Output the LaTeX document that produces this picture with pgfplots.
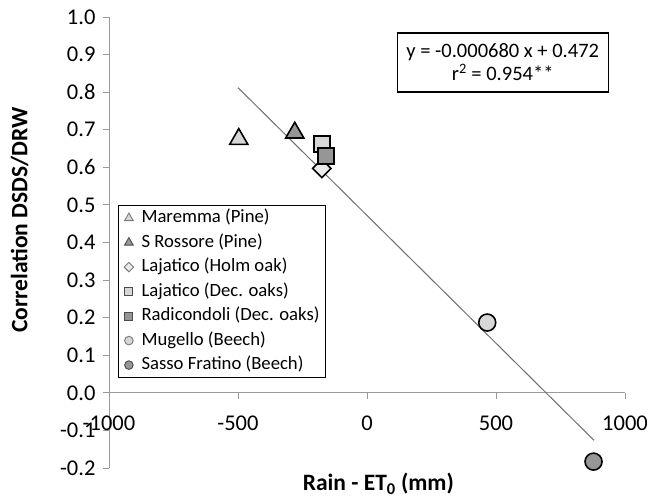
\documentclass[border=0pt]{standalone}
\usepackage{pgfplots}
\pgfplotsset{compat=1.18}
\usepackage{fontspec}
\setmainfont{Carlito}
\definecolor{lightfill}{RGB}{215,215,215}
\definecolor{darkfill}{RGB}{150,150,150}
\definecolor{axisgray}{RGB}{155,155,155}
\definecolor{linegray}{RGB}{110,110,110}
\begin{document}
\begin{tikzpicture}
\begin{axis}[
  scale only axis, width=516pt, height=451pt,
  xmin=-1000, xmax=1000, ymin=-0.2, ymax=1.0,
  axis y line=left, axis x line=middle,
  axis line style={axisgray, -, line width=0.9pt},
  hide obscured x ticks=false, hide obscured y ticks=false,
  xtick={-1000,-500,0,500,1000},
  ytick={-0.2,-0.1,0,0.1,0.2,0.3,0.4,0.5,0.6,0.7,0.8,0.9,1.0},
  yticklabel style={/pgf/number format/fixed, /pgf/number format/fixed zerofill, /pgf/number format/precision=1, xshift=-4pt},
  xticklabel style={/pgf/number format/1000 sep={}, yshift=-14pt},
  /pgf/number format/assume math mode=true,
  tick style={axisgray, line width=0.9pt},
  tick align=outside, major tick length=6pt,
  ticklabel style={font=\fontsize{22.5}{24}\selectfont},
  xlabel={\textbf{Rain - ET\textsubscript{0} (mm)}},
  ylabel={\textbf{Correlation DSDS/DRW}},
  xlabel style={at={(axis description cs:0.522,0)}, anchor=center, yshift=-16pt, font=\fontsize{23.5}{26}\selectfont},
  ylabel style={at={(axis description cs:-0.173,0.55)}, anchor=center, font=\fontsize{23.5}{26}\selectfont},
  clip=false,
  legend cell align=left,
  legend image code/.code={\draw[#1] plot coordinates {(0pt,0pt)};},
  legend style={at={(0.017,0.2)}, anchor=south west, draw=black, line width=0.9pt,
    font=\fontsize{18.7}{20}\selectfont, inner xsep=6pt, inner ysep=0pt,
    /tikz/every odd column/.append style={column sep=8pt},
    nodes={text height=14.5pt, text depth=5pt, inner ysep=2.5pt, inner xsep=0pt}},
]
\addplot[forget plot, linegray, line width=1pt] coordinates {(-500,0.812) (880,-0.1264)};
\addplot[forget plot, only marks, mark=triangle*, mark size=10.5pt, mark options={fill=lightfill, draw=black, line width=1.6pt}] coordinates {(-497,0.675)};
\addplot[forget plot, only marks, mark=triangle*, mark size=10.5pt, mark options={fill=darkfill, draw=black, line width=1.6pt}] coordinates {(-280,0.692)};
\addplot[forget plot, only marks, mark=square*, mark size=6.5pt, mark options={rotate=45, fill=lightfill!50!white, draw=black, line width=1.6pt}] coordinates {(-175,0.597)};
\addplot[forget plot, only marks, mark=square*, mark size=8pt, mark options={fill=lightfill, draw=black, line width=1.6pt}] coordinates {(-175,0.662)};
\addplot[forget plot, only marks, mark=square*, mark size=8pt, mark options={fill=darkfill, draw=black, line width=1.6pt}] coordinates {(-160,0.630)};
\addplot[forget plot, only marks, mark=*, mark size=8.5pt, mark options={fill=lightfill, draw=black, line width=1.6pt}] coordinates {(466,0.187)};
\addplot[forget plot, only marks, mark=*, mark size=8.5pt, mark options={fill=darkfill, draw=black, line width=1.6pt}] coordinates {(878,-0.183)};
\addlegendimage{only marks, mark=triangle*, mark size=5pt, mark options={fill=lightfill, draw=darkfill!80!black, line width=0.9pt}}
\addlegendentry{Maremma (Pine)}
\addlegendimage{only marks, mark=triangle*, mark size=5pt, mark options={fill=darkfill, draw=black!70, line width=0.9pt}}
\addlegendentry{S Rossore (Pine)}
\addlegendimage{only marks, mark=square*, mark size=3.3pt, mark options={rotate=45, fill=lightfill!50!white, draw=darkfill!80!black, line width=0.9pt}}
\addlegendentry{Lajatico (Holm oak)}
\addlegendimage{only marks, mark=square*, mark size=4pt, mark options={fill=lightfill, draw=black!70, line width=0.9pt}}
\addlegendentry{Lajatico (Dec. oaks)}
\addlegendimage{only marks, mark=square*, mark size=4pt, mark options={fill=darkfill, draw=black!70, line width=0.9pt}}
\addlegendentry{Radicondoli (Dec. oaks)}
\addlegendimage{only marks, mark=*, mark size=4.3pt, mark options={fill=lightfill, draw=darkfill!80!black, line width=0.9pt}}
\addlegendentry{Mugello (Beech)}
\addlegendimage{only marks, mark=*, mark size=4.3pt, mark options={fill=darkfill, draw=black!70, line width=0.9pt}}
\addlegendentry{Sasso Fratino (Beech)}
\node[draw=black, line width=1.2pt, fill=white, align=center, minimum width=211pt, minimum height=59pt,
  font=\fontsize{20.5}{23}\selectfont] at (axis description cs:0.763,0.899)
  {y = -0.000680 x + 0.472\\r\textsuperscript{2} = 0.954**};
\end{axis}
\pgfresetboundingbox
\path[use as bounding box] ([xshift=-109pt,yshift=-30pt]current axis.south west) rectangle ([xshift=28pt,yshift=17pt]current axis.north east);
\end{tikzpicture}
\end{document}
